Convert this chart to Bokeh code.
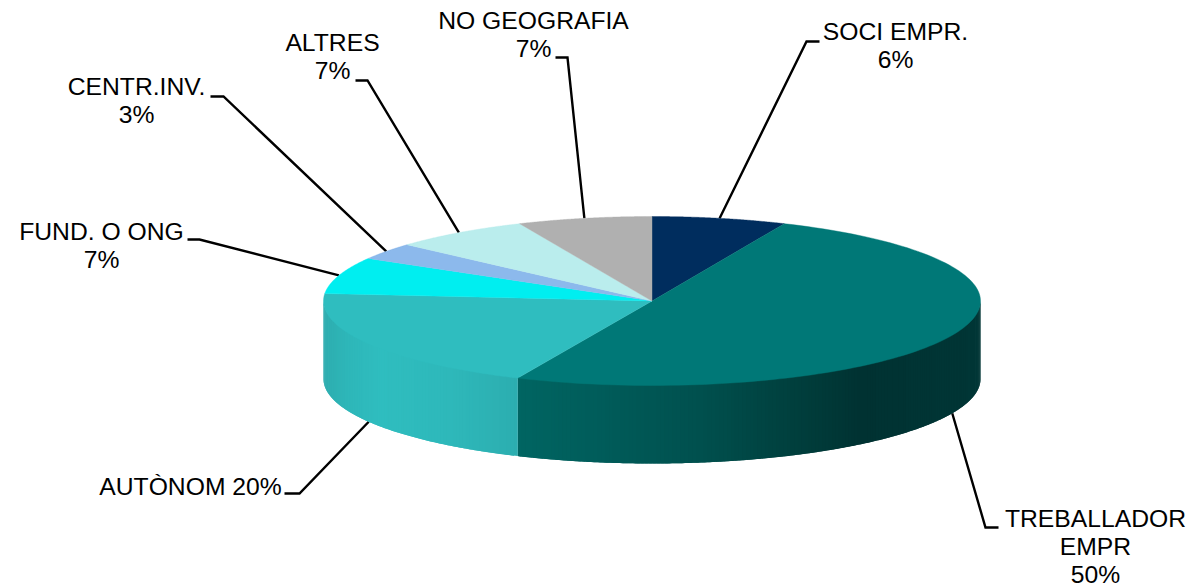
import numpy as np
from bokeh.plotting import figure
from bokeh.embed import file_html
from bokeh.resources import INLINE
from bokeh.core.properties import value

# --- data ---
categories = ["SOCI EMPR.", "TREBALLADOR EMPR", "AUTÒNOM", "FUND. O ONG", "CENTR.INV.", "ALTRES", "NO GEOGRAFIA"]
shares = [6.6, 50.1, 19.7, 7.0, 3.2, 6.8, 6.6]
label_lines = [["SOCI EMPR.", "6%"], ["TREBALLADOR", "EMPR", "50%"], ["AUTÒNOM 20%"], ["FUND. O ONG", "7%"],
               ["CENTR.INV.", "3%"], ["ALTRES", "7%"], ["NO GEOGRAFIA", "7%"]]
top_colors = ["#002D5E", "#007877", "#2FBDBF", "#00EEF0", "#8CB9EC", "#BAEDED", "#B0B0B0"]

# --- layout ---
CX, CY, RX, RY, DEPTH = 651.5, 300.5, 328.5, 84.5, 78
label_pos = [(895, 31), (1095, 518), (190, 486), (101, 231), (136, 86), (332, 42), (533, 20)]
LINE_H = 28
elbows = [((819, 41), (806, 41)), ((998, 527), (985, 527)), ((284, 493), (299, 493)), ((187, 239), (199, 239)),
          ((210, 96), (223, 96)), ((355, 80), (367, 80)), ((555, 57), (567, 57))]
# side shading stops: screen x -> colour, per slice that shows a wall
side_stops = {
    1: ([517, 600, 700, 800, 860, 980], [(0, 101, 98), (0, 92, 90), (0, 80, 78), (0, 62, 60), (0, 50, 50), (0, 54, 54)]),
    2: ([323, 345, 380, 450, 517], [(46, 173, 175), (46, 182, 184), (47, 189, 191), (46, 184, 186), (44, 174, 176)]),
}

p = figure(width=1194, height=588, x_range=(0, 1194), y_range=(588, 0), output_backend="svg",
           toolbar_location=None, min_border=0, outline_line_color=None,
           background_fill_color="white", border_fill_color="white")
p.axis.visible = False
p.grid.visible = False

edges = np.concatenate([[0], np.cumsum(shares)]) / np.sum(shares) * 2 * np.pi


def ex(t):
    return CX + RX * np.sin(t)


def ey(t):
    return CY - RY * np.cos(t)


# leader lines
for i, (a, b) in enumerate(elbows):
    mid = (edges[i] + edges[i + 1]) / 2
    front = np.pi / 2 < mid < 3 * np.pi / 2
    endx, endy = ex(mid), ey(mid) + (DEPTH if front else 0)
    p.line([a[0], b[0], endx], [a[1], b[1], endy], line_color="black", line_width=2.4, line_join="miter")

# walls: strips overlap the next one so no seams show
for i, (xs, cols) in side_stops.items():
    t0 = max(edges[i], np.pi / 2)
    t1 = min(edges[i + 1], 3 * np.pi / 2)
    n = max(int((t1 - t0) / 0.012), 2)
    ts = np.linspace(t0, t1, n + 1)
    px, py, colors = [], [], []
    for j, (a, b) in enumerate(zip(ts[:-1], ts[1:])):
        end = ts[min(j + 2, n)]
        steps = np.linspace(a, end, 4)
        px.append(np.concatenate([ex(steps), ex(steps[::-1])]).tolist())
        py.append(np.concatenate([ey(steps) - 1, ey(steps[::-1]) + DEPTH]).tolist())
        mx = ex((a + b) / 2)
        rgb = [int(round(np.interp(mx, xs, [c[k] for c in cols]))) for k in range(3)]
        colors.append("#%02x%02x%02x" % tuple(rgb))
    p.patches(px, py, fill_color=colors, line_color=None)

# top faces
for i, col in enumerate(top_colors):
    ts = np.linspace(edges[i], edges[i + 1], 120)
    p.patch(np.concatenate([[CX], ex(ts)]), np.concatenate([[CY], ey(ts)]), fill_color=col, line_color=col, line_width=0.4)

# labels
for (x, y), lines, name in zip(label_pos, label_lines, categories):
    ys = [y + j * LINE_H for j in range(len(lines))]
    p.text([x] * len(lines), ys, text=lines, text_align="center", text_baseline="middle",
           text_font=value("Liberation Sans"), text_font_size="24.7px", text_color="black")

open("out.html", "w").write(file_html(p, INLINE))
